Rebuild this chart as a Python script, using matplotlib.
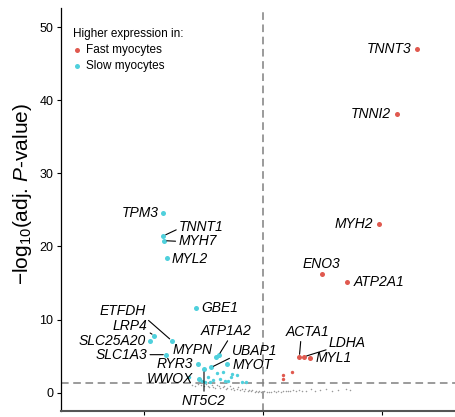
import matplotlib
matplotlib.use("Agg")
import matplotlib.pyplot as plt

plt.rcParams["font.family"] = "Liberation Sans"
plt.rcParams["mathtext.fontset"] = "custom"
plt.rcParams["mathtext.rm"] = "Liberation Sans"
plt.rcParams["mathtext.it"] = "Liberation Sans:italic"

FAST = "#E0594F"
SLOW = "#4FD0DC"

# labelled genes higher in fast myocytes
fast_genes = ["TNNT3", "TNNI2", "MYH2", "ENO3", "ATP2A1", "ACTA1", "LDHA", "MYL1"]
fast_fc = [1.297, 1.124, 0.975, 0.493, 0.703, 0.305, 0.345, 0.398]
fast_p = [47.06, 38.17, 23.08, 16.24, 15.14, 4.88, 4.92, 4.75]

# labelled genes higher in slow myocytes
slow_genes = ["TPM3", "TNNT1", "MYH7", "MYL2", "GBE1", "ETFDH", "LRP4", "SLC25A20",
              "SLC1A3", "MYPN", "ATP1A2", "UBAP1", "MYOT", "RYR3", "WWOX", "NT5C2"]
slow_fc = [-0.840, -0.838, -0.832, -0.804, -0.560, -0.767, -0.913, -0.947,
           -0.815, -0.391, -0.374, -0.437, -0.300, -0.549, -0.542, -0.496]
slow_p = [24.54, 21.44, 20.79, 18.47, 11.55, 7.11, 7.80, 7.11,
          5.20, 4.82, 5.09, 3.45, 3.89, 3.89, 1.81, 3.20]

# unlabelled significant genes
fast_small_fc = [0.168, 0.168, 0.241]
fast_small_p = [2.38, 1.92, 2.83]
slow_small_fc = [-0.339, -0.389, -0.221, -0.269, -0.361, -0.418, -0.319, -0.179,
                 -0.445, -0.515, -0.487, -0.258, -0.624, -0.143, -0.294, -0.462]
slow_small_p = [2.79, 2.65, 2.42, 2.11, 1.83, 1.74, 1.64, 1.42,
                1.42, 1.64, 1.46, 2.52, 2.19, 1.53, 1.60, 2.08]

# non-significant genes
ns_fc = [-0.60, -0.57, -0.55, -0.52, -0.50, -0.48, -0.46, -0.45, -0.43, -0.42,
         -0.40, -0.39, -0.37, -0.36, -0.34, -0.33, -0.31, -0.30, -0.28, -0.27,
         -0.25, -0.24, -0.22, -0.21, -0.19, -0.18, -0.16, -0.15, -0.13, -0.12,
         -0.10, -0.09, -0.07, -0.06, -0.04, -0.03, -0.02, 0.00, 0.01, 0.03,
         0.05, 0.07, 0.09, 0.11, 0.13, 0.15, 0.17, 0.19, 0.21, 0.23,
         0.25, 0.28, 0.30, 0.33, 0.36, 0.40, 0.44, 0.48, 0.53, 0.58,
         0.63, 0.70, 0.73]
ns_p = [1.10, 0.95, 1.20, 1.05, 0.85, 1.15, 0.95, 0.75, 1.05, 0.80,
        0.65, 1.00, 0.85, 0.60, 0.75, 0.95, 0.55, 0.70, 0.85, 0.50,
        0.65, 0.40, 0.55, 0.75, 0.35, 0.50, 0.30, 0.45, 0.25, 0.40,
        0.20, 0.35, 0.15, 0.28, 0.10, 0.22, 0.05, 0.08, 0.18, 0.05,
        0.12, 0.08, 0.18, 0.10, 0.22, 0.14, 0.28, 0.18, 0.30, 0.20,
        0.35, 0.25, 0.40, 0.22, 0.30, 0.45, 0.28, 0.35, 0.50, 0.30,
        0.40, 0.55, 0.35]

# label placement: offset (points), alignment, where the connector leaves the text
label_pos = {
    "TNNT3": (-4, 0, "right", None),
    "TNNI2": (-4, 0, "right", None),
    "MYH2": (-4, 0, "right", None),
    "ENO3": (0, 7.5, "center", None),
    "ATP2A1": (4.8, 0, "left", None),
    "ACTA1": (6.2, 18.2, "center", (0.34, 0)),
    "LDHA": (17.8, 9.6, "left", (0, 0.1)),
    "MYL1": (3.9, 0, "left", None),
    "TPM3": (-3.4, 0, "right", None),
    "TNNT1": (11.3, 6.3, "left", (0, 0.4)),
    "MYH7": (10.3, -0.5, "left", (0, 0.5)),
    "MYL2": (2.7, -1.2, "left", None),
    "GBE1": (3.9, 0, "left", None),
    "ETFDH": (-18.7, 21.4, "right", (1, 0)),
    "LRP4": (-5, 7.2, "right", (1, 0.1)),
    "SLC25A20": (-3.1, 0, "right", None),
    "SLC1A3": (-13.5, 0, "right", (1, 0.5)),
    "MYPN": (-2.5, 5.3, "right", None),
    "ATP1A2": (5.6, 17.6, "center", (0.56, 0)),
    "UBAP1": (15.3, 11.6, "left", (0, 0.1)),
    "MYOT": (3.9, -0.6, "left", None),
    "RYR3": (-3.2, 0.2, "right", None),
    "WWOX": (-3.7, 0.6, "right", None),
    "NT5C2": (0, -22.8, "center", (0.5, 1)),
}

fig = plt.figure(figsize=(4.55, 4.17), dpi=100)
ax = fig.add_axes([60.7 / 455, 6.3 / 417, 394.3 / 455, 402.7 / 417])

ax.axhline(1.3, color="#808080", lw=1.1, dashes=(5, 3), zorder=1)
ax.axvline(0, color="#808080", lw=1.1, dashes=(5, 3), zorder=1)

ax.scatter(ns_fc, ns_p, s=1.2, color="#9a9a9a", lw=0, zorder=2)
ax.scatter(fast_small_fc, fast_small_p, s=6, color=FAST, lw=0, zorder=3)
ax.scatter(slow_small_fc, slow_small_p, s=6, color=SLOW, lw=0, zorder=3)
ax.scatter(fast_fc, fast_p, s=13, color=FAST, lw=0, zorder=4, label="Fast myocytes")
ax.scatter(slow_fc, slow_p, s=13, color=SLOW, lw=0, zorder=4, label="Slow myocytes")

for genes, xs, ys in [(fast_genes, fast_fc, fast_p), (slow_genes, slow_fc, slow_p)]:
    for g, x, y in zip(genes, xs, ys):
        dx, dy, ha, rel = label_pos[g]
        arrow = None
        if rel is not None:
            arrow = dict(arrowstyle="-", lw=0.8, color="black", relpos=rel,
                         shrinkA=0, shrinkB=2)
        ax.annotate(g, (x, y), xytext=(dx, dy), textcoords="offset points",
                    ha=ha, va="center", fontsize=10, style="italic",
                    arrowprops=arrow, zorder=5)

ax.set_xlim(-1.70, 1.613)
ax.set_ylim(-2.46, 52.6)
ax.set_xticks([-1, 0, 1])
ax.set_yticks([0, 10, 20, 30, 40, 50])
ax.tick_params(axis="y", length=3.2, width=0.8, pad=2.2, labelsize=9)
ax.tick_params(axis="x", length=3.2, width=0.8, labelbottom=False)

ax.spines["top"].set_visible(False)
ax.spines["right"].set_visible(False)
ax.spines["left"].set_linewidth(0.9)
ax.spines["bottom"].set_linewidth(1.5)
ax.spines["bottom"].set_color("#555555")

ax.set_ylabel("\u2212log$_{10}$(adj. $\\it{P}$-value)", fontsize=15)
ax.yaxis.set_label_coords(-0.068, 0.537)

leg = ax.legend(loc="upper left", bbox_to_anchor=(0.030, 0.950), frameon=False,
                title="Higher expression in:", fontsize=8.5, title_fontsize=8.5,
                alignment="left", borderpad=0, borderaxespad=0,
                handlelength=0.8, handletextpad=0.3, labelspacing=0.35)

fig.savefig("out.png", dpi=100)
